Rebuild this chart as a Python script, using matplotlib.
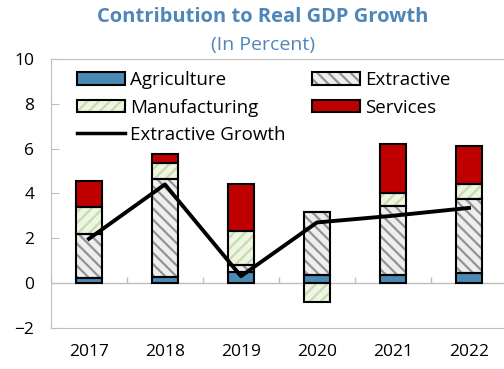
import numpy as np
import matplotlib
matplotlib.use("Agg")
import matplotlib.pyplot as plt
from matplotlib.patches import Patch
from matplotlib.lines import Line2D
from matplotlib.legend_handler import HandlerTuple

plt.rcParams['font.family'] = ['Open Sans', 'DejaVu Sans']
plt.rcParams['hatch.linewidth'] = 1.6

# data (percentage point contributions)
years = ['2017', '2018', '2019', '2020', '2021', '2022']
agriculture = [0.20, 0.25, 0.48, 0.37, 0.37, 0.44]
extractive = [2.00, 4.40, 0.30, 2.78, 3.05, 3.31]
manufacturing = [1.20, 0.72, 1.52, -0.84, 0.58, 0.65]
services = [1.15, 0.40, 2.13, 0.00, 2.19, 1.71]
extractive_growth = [1.97, 4.40, 0.30, 2.70, 3.00, 3.35]

title_color = '#4f86b9'
styles = {
    'Agriculture': dict(fc='#4a8ab4', hc=None, hatch=None),
    'Extractive': dict(fc='#eeeeee', hc='#939393', hatch='\\\\\\'),
    'Manufacturing': dict(fc='#eef5e3', hc='#c8dbad', hatch='///'),
    'Services': dict(fc='#c00000', hc=None, hatch=None),
}
series = [('Agriculture', agriculture), ('Extractive', extractive),
          ('Manufacturing', manufacturing), ('Services', services)]

fig = plt.figure(figsize=(5.04, 3.69), dpi=100)
ax = fig.add_axes([0.101, 0.112, 0.905, 0.728])

x = np.arange(len(years))
width = 0.34
pos_bottom = np.zeros(len(years))
neg_bottom = np.zeros(len(years))
handles = {}
for name, vals in series:
    vals = np.array(vals)
    bottom = np.where(vals >= 0, pos_bottom, neg_bottom)
    st = styles[name]
    if st['hatch']:
        ax.bar(x, vals, width, bottom=bottom, color=st['fc'], edgecolor=st['hc'],
               hatch=st['hatch'], linewidth=0, zorder=2)
    else:
        ax.bar(x, vals, width, bottom=bottom, color=st['fc'], linewidth=0, zorder=2)
    ax.bar(x, vals, width, bottom=bottom, facecolor='none', edgecolor='black',
           linewidth=1.5, zorder=3)
    pos_bottom += np.where(vals >= 0, vals, 0)
    neg_bottom += np.where(vals < 0, vals, 0)
    fill = Patch(facecolor=st['fc'], edgecolor=st['hc'] or st['fc'],
                 hatch=st['hatch'], linewidth=0)
    outline = Patch(facecolor='none', edgecolor='black', linewidth=1.5)
    handles[name] = (fill, outline)

ax.plot(x, extractive_growth, color='black', linewidth=2.8, zorder=4)
handles['Extractive Growth'] = Line2D([], [], color='black', linewidth=2.5)

# zero line and category tick marks
ax.axhline(0, color='#bfbfbf', linewidth=1, zorder=1)
ax.vlines(np.arange(len(years) + 1) - 0.5, 0, 0.28, color='#bfbfbf', linewidth=1, zorder=1)

ax.set_xlim(-0.5, len(years) - 0.5)
ax.set_ylim(-2, 10)
ax.set_yticks(np.arange(-2, 11, 2))
ax.set_xticks(x)
ax.set_xticklabels(years)
ax.tick_params(axis='x', length=0, pad=12, labelsize=12.5)
ax.tick_params(axis='y', direction='in', length=6, color='#bfbfbf', pad=12, labelsize=12.5)
for side in ['left', 'top', 'bottom']:
    ax.spines[side].set_color('#bfbfbf')
ax.spines['right'].set_visible(False)

order = ['Agriculture', 'Manufacturing', 'Extractive Growth', 'Extractive', 'Services']
leg = ax.legend([handles[k] for k in order], order, ncol=2,
                handler_map={tuple: HandlerTuple(ndivide=1)},
                loc='upper left', bbox_to_anchor=(0.057, 0.955), frameon=False,
                fontsize=13.5, handlelength=2.55, handleheight=0.65, handletextpad=0.3,
                columnspacing=1.4, labelspacing=0.5, borderpad=0, borderaxespad=0)

fig.text(0.522, 0.954, 'Contribution to Real GDP Growth', ha='center', va='center',
         fontsize=14.5, fontweight='bold', color=title_color)
fig.text(0.522, 0.878, '(In Percent)', ha='center', va='center',
         fontsize=14, color=title_color)

fig.savefig('out.png', dpi=100)
